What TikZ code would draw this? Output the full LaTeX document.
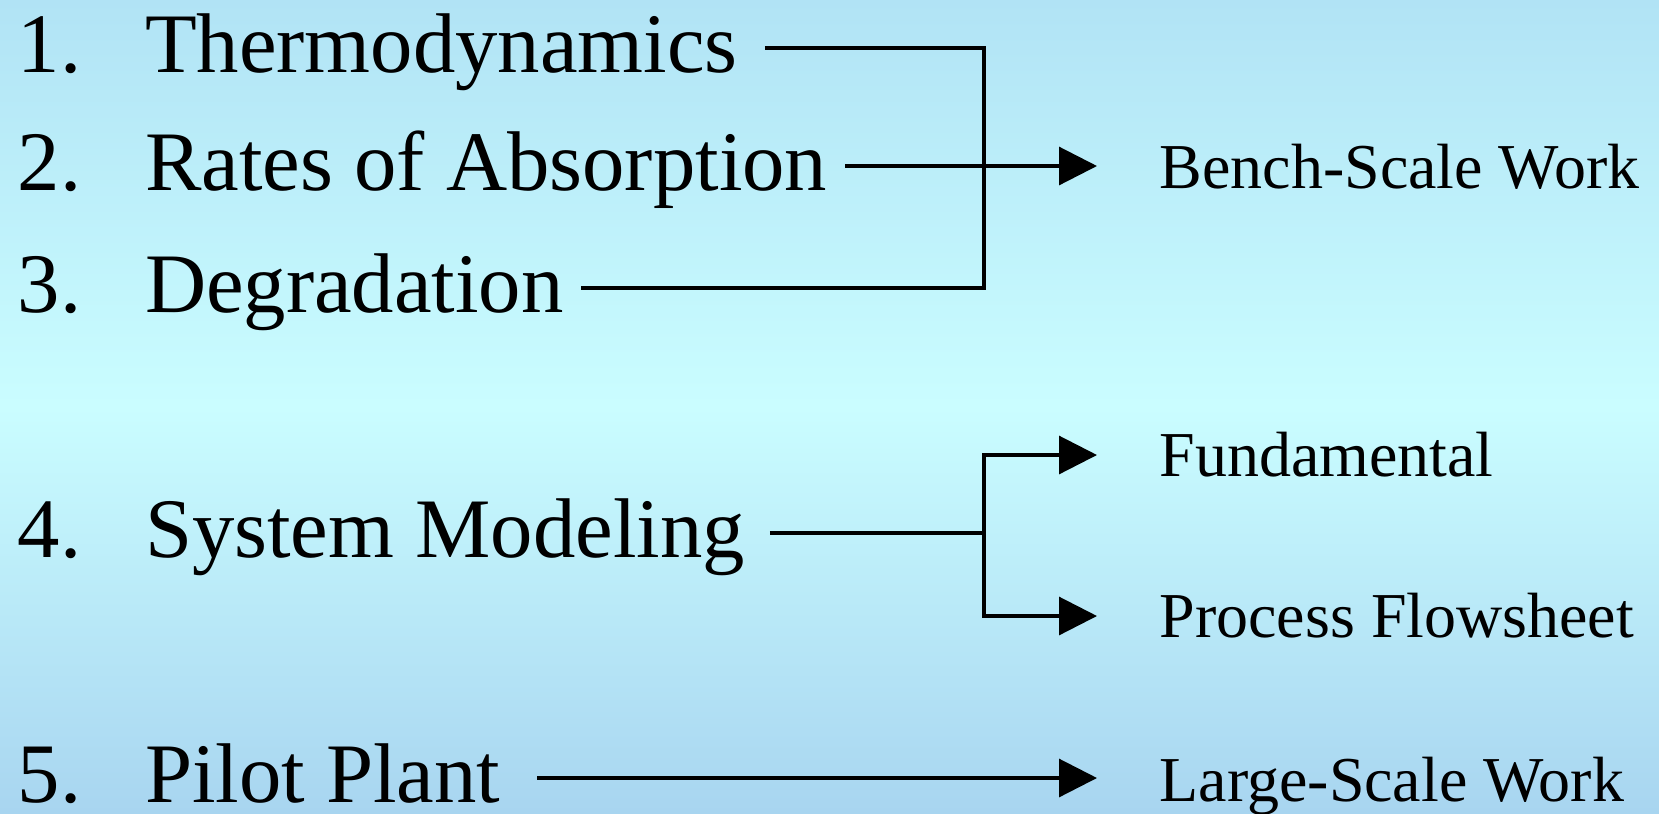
\documentclass[tikz,border=0pt]{standalone}
\usepackage{fontspec}
\setmainfont{Liberation Serif}
\usepackage{tikz}
\usetikzlibrary{arrows.meta,positioning,calc}
\definecolor{bgtop}{RGB}{177,227,245}
\definecolor{bgmid}{RGB}{202,253,255}
\definecolor{bgbot}{RGB}{168,213,240}
\tikzset{
  num/.style={anchor=base west,inner sep=0pt,font=\fontsize{24.1}{29}\selectfont},
  item/.style={anchor=base west,inner sep=0pt,outer xsep=0.2cm,text height=0.6cm,text depth=0.12cm,font=\fontsize{24.1}{29}\selectfont},
  goal/.style={anchor=base west,inner sep=0pt,text height=0.45cm,text depth=0.03cm,font=\fontsize{18.2}{22}\selectfont},
  link/.style={line width=0.9pt},
  arr/.style={line width=0.9pt,-{Triangle[length=0.38cm,width=0.38cm]},shorten >=0.62cm}
}

\begin{document}
\begin{tikzpicture}
\useasboundingbox (0,0) rectangle (16.59,-8.13);
\shade[top color=bgtop,bottom color=bgbot,middle color=bgmid] (0,0) rectangle (16.59,-8.13);
% left column
\node[num] (n1) at (0.17,-0.72) {1.};
\node[num] (n2) at (0.17,-1.90) {2.};
\node[num] (n3) at (0.17,-3.12) {3.};
\node[num] (n4) at (0.17,-5.57) {4.};
\node[num] (n5) at (0.17,-8.02) {5.};
\node[item,outer xsep=0.27cm] (thermo) at (1.18,-0.72) {Thermodynamics};
\node[item,outer xsep=0.18cm] (rates) at (1.27,-1.90) {Rates of Absorption};
\node[item,outer xsep=0.17cm] (degr) at (1.28,-3.12) {Degradation};
\node[item,outer xsep=0.25cm] (sysmod) at (1.2,-5.57) {System Modeling};
\node[item,outer xsep=0.37cm] (pilot) at (1.08,-8.02) {Pilot Plant};
% right column
\node[goal] (bench) at (11.59,-1.88) {Bench-Scale Work};
\node[goal] (fund) at (11.59,-4.76) {Fundamental};
\node[goal] (proc) at (11.59,-6.37) {Process Flowsheet};
\node[goal] (large) at (11.59,-8.01) {Large-Scale Work};
\coordinate (j1) at (9.84,-1.7);
\coordinate (j2) at (9.84,-5.4);
% connectors
\draw[link] (thermo.east) -| (j1) |- (degr.east);
\draw[arr] (rates.east) -- (rates.east -| bench.west);
\draw[link] (sysmod.east) -- (sysmod.east -| j2);
\draw[arr] (sysmod.east -| j2) |- (fund.west);
\draw[arr] (sysmod.east -| j2) |- (proc.west);
\draw[arr] (pilot.east) -- (pilot.east -| large.west);
\end{tikzpicture}
\end{document}
